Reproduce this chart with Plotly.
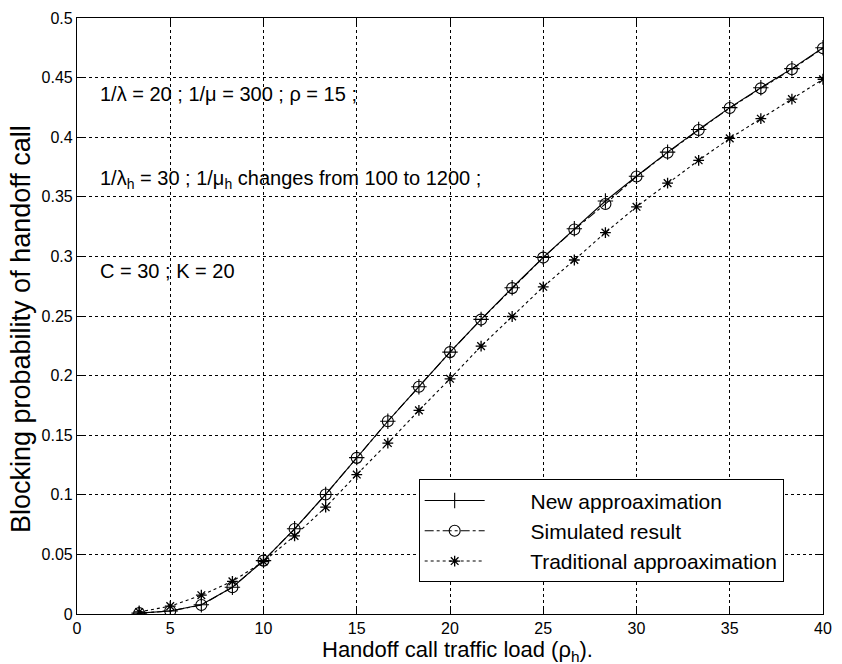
import plotly.graph_objects as go

rho_h = [3.333, 5.0, 6.667, 8.333, 10.0, 11.667, 13.333, 15.0, 16.667, 18.333, 20.0,
         21.667, 23.333, 25.0, 26.667, 28.333, 30.0, 31.667, 33.333, 35.0, 36.667, 38.333, 40.0]

new_approx = [0.0007, 0.0025, 0.0078, 0.0225, 0.0448, 0.0715, 0.1003, 0.1312, 0.1617, 0.1907, 0.2197,
              0.2472, 0.2737, 0.2992, 0.3232, 0.3465, 0.3672, 0.3875, 0.4065, 0.4248, 0.4415, 0.4575, 0.4750]
simulated = [0.0007, 0.0025, 0.0075, 0.0224, 0.0448, 0.0713, 0.1003, 0.1310, 0.1617, 0.1907, 0.2197,
             0.2470, 0.2734, 0.2990, 0.3226, 0.3440, 0.3670, 0.3870, 0.4060, 0.4245, 0.4410, 0.4570, 0.4746]
traditional = [0.0017, 0.0066, 0.0158, 0.0274, 0.0440, 0.0655, 0.0896, 0.1170, 0.1434, 0.1708, 0.1973,
               0.2247, 0.2496, 0.2745, 0.2970, 0.3200, 0.3416, 0.3615, 0.3806, 0.3990, 0.4155, 0.4320, 0.4486]

x_ticks = [0, 5, 10, 15, 20, 25, 30, 35, 40]
y_ticks = [0, 0.05, 0.1, 0.15, 0.2, 0.25, 0.3, 0.35, 0.4, 0.45, 0.5]
y_tick_text = ["0", "0.05", "0.1", "0.15", "0.2", "0.25", "0.3", "0.35", "0.4", "0.45", "0.5"]

x_title = "Handoff call traffic load (ρ<sub>h</sub>)."
y_title = "Blocking probability of handoff call"

FONT = "Liberation Sans, Arial, Helvetica, sans-serif"

fig = go.Figure()
fig.add_trace(go.Scatter(
    x=rho_h, y=new_approx, name="       New approaximation", mode="lines+markers",
    line=dict(color="black", width=1.1, dash="solid"),
    marker=dict(symbol="cross-thin-open", size=11, line=dict(color="black", width=1.1))))
fig.add_trace(go.Scatter(
    x=rho_h, y=simulated, name="       Simulated result", mode="lines+markers",
    line=dict(color="black", width=1.1, dash="dashdot"),
    marker=dict(symbol="circle-open", size=11, line=dict(color="black", width=1.1))))
fig.add_trace(go.Scatter(
    x=rho_h, y=traditional, name="       Traditional approaximation", mode="lines+markers",
    line=dict(color="black", width=1.1, dash="dot"),
    marker=dict(symbol="asterisk-open", size=9, line=dict(color="black", width=1.3))))

W, H = 842, 664
L, R, T, B = 77, 10, 11, 50
PW, PH = W - L - R, H - T - B


def px2paper(px, py):
    return (px - L) / PW, 1 - (py - T) / PH


annots = [
    (98, 88, "1/λ = 20 ; 1/μ = 300 ; ρ = 15 ;"),
    (98, 174, "1/λ<sub>h</sub> = 30 ; 1/μ<sub>h</sub> changes from 100 to 1200 ;"),
    (98, 267, "C = 30 ; K = 20"),
]
for px, py, txt in annots:
    ax, ay = px2paper(px, py)
    fig.add_annotation(
        x=ax, y=ay, xref="paper", yref="paper",
        text=txt, showarrow=False, xanchor="left", yanchor="middle",
        font=dict(family=FONT, size=20, color="black"))

# axis titles placed as annotations
tx, ty = px2paper(462, 651)
fig.add_annotation(x=tx, y=ty, xref="paper", yref="paper", text=x_title, showarrow=False,
                   xanchor="center", yanchor="middle", font=dict(family=FONT, size=22, color="black"))
yx, yy = px2paper(21, 326)
fig.add_annotation(x=yx, y=yy, xref="paper", yref="paper", text=y_title, showarrow=False,
                   textangle=-90, xanchor="center", yanchor="middle",
                   font=dict(family=FONT, size=27, color="black"))

axis_common = dict(
    showline=True, linecolor="black", linewidth=1.2, mirror="ticks",
    ticks="inside", ticklen=6, tickcolor="black",
    showgrid=True, gridcolor="black", gridwidth=1, griddash="dot",
    zeroline=False, tickfont=dict(family=FONT, size=16, color="black"),
)

fig.update_layout(
    width=W, height=H, margin=dict(l=L, r=R, t=T, b=B),
    paper_bgcolor="white", plot_bgcolor="white",
    font=dict(family=FONT, color="black"),
    xaxis=dict(range=[0, 40], tickvals=x_ticks, ticktext=[str(v) for v in x_ticks], **axis_common),
    yaxis=dict(range=[0, 0.5], tickvals=y_ticks, ticktext=y_tick_text, **axis_common),
    legend=dict(x=0.458, y=0.226, xanchor="left", yanchor="top",
                bgcolor="white", bordercolor="black", borderwidth=1,
                font=dict(family=FONT, size=21, color="black"),
                tracegroupgap=0, itemwidth=60),
    showlegend=True,
)

fig.write_html("out.html")
